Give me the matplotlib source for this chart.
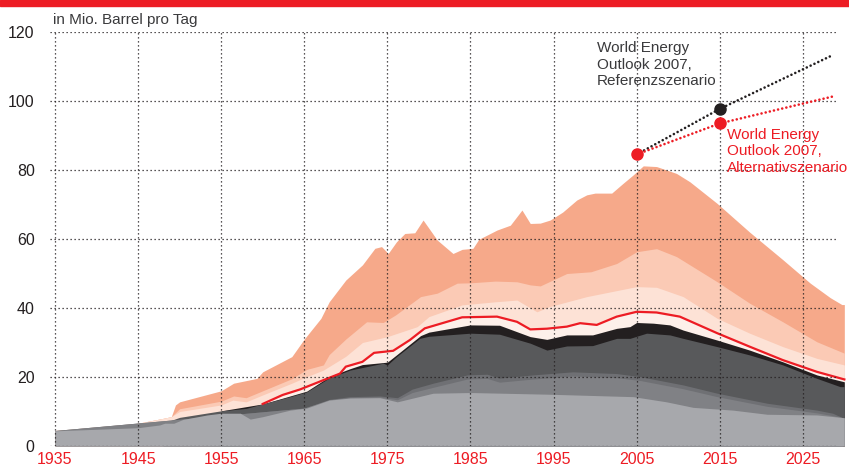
import matplotlib
matplotlib.use('Agg')
import matplotlib.pyplot as plt
from matplotlib.patches import Rectangle

plt.rcParams['font.family'] = ['Liberation Sans', 'DejaVu Sans']

# boundaries of the stacked areas (cumulative heights, Mio. barrel per day)
total_years = [1935, 1940, 1945, 1948, 1949, 1949.5, 1950, 1955, 1956.5, 1959.3, 1960, 1963.5, 1965,
               1967, 1968, 1970, 1972, 1973.5, 1974.3, 1975.1, 1976.1, 1977.1, 1978.3, 1979.3, 1981,
               1982.9, 1984, 1985.3, 1986, 1988.2, 1989.8, 1991.2, 1992.2, 1993.4, 1994.6, 1996.1,
               1997.8, 1999, 2000, 2002, 2003.4, 2004.6, 2005.8, 2007.4, 2009.8, 2011.4, 2014.7,
               2018.6, 2022.6, 2025.9, 2028.3, 2029.7, 2030]
total_vals = [4.5, 5.0, 6.6, 8.0, 8.5, 11.9, 12.8, 16.0, 18.2, 19.6, 21.5, 25.9, 31.0,
              37.0, 41.8, 48.1, 52.5, 57.3, 57.8, 55.8, 59.2, 61.6, 61.8, 65.5, 59.7,
              55.8, 57.0, 57.3, 59.9, 62.6, 64.0, 68.4, 64.5, 64.6, 65.5, 67.8,
              71.3, 72.8, 73.3, 73.3, 76.2, 78.6, 81.2, 81.0, 79.0, 76.6, 70.3,
              62.0, 54.0, 47.2, 43.0, 41.0, 41.0]

pink_years = [1935, 1945, 1948, 1949, 1950, 1955, 1956.5, 1958, 1960, 1963.5, 1965.3, 1967.3, 1968,
              1970, 1972.5, 1974.5, 1976, 1979, 1981, 1983.4, 1985, 1988, 1990.6, 1992.2, 1993.4,
              1996.6, 1999.5, 2002.6, 2005, 2007.4, 2009.8, 2014.7, 2018.6, 2022.6, 2026.7, 2030]
pink_vals = [4.5, 6.6, 8.0, 8.5, 10.8, 13.0, 14.5, 14.0, 16.0, 19.5, 22.2, 23.5, 26.5,
             31.0, 36.0, 35.8, 38.0, 43.3, 44.3, 47.2, 47.3, 47.8, 47.6, 46.7, 46.4,
             50.0, 50.5, 52.9, 56.3, 57.2, 54.9, 47.6, 41.4, 36.0, 30.2, 26.9]

lightpink_years = [1935, 1940, 1945, 1948, 1949, 1950, 1955, 1956.4, 1958, 1960, 1963.5, 1965.3,
                   1967.3, 1970, 1972, 1975, 1978.6, 1980, 1984, 1988, 1990.6, 1993, 1994.5, 1999,
                   2005, 2007.4, 2010.6, 2014.7, 2018.6, 2022.6, 2026.7, 2030]
lightpink_vals = [4.5, 5.0, 6.6, 8.0, 8.5, 10.0, 11.9, 13.3, 12.8, 14.8, 18.2, 20.1,
                  22.0, 26.0, 30.0, 31.7, 34.6, 37.5, 40.9, 41.8, 42.3, 38.9, 40.4, 43.3,
                  46.2, 46.0, 43.3, 37.0, 32.7, 28.8, 25.4, 23.5]

# top of the cream layer = red line
cream_years = [1960, 1962.4, 1964.5, 1969.3, 1970, 1972, 1973.4, 1975.7, 1977.7, 1979.5, 1984,
               1988.2, 1990.6, 1992.2, 1994.2, 1996.6, 1998.2, 2000.2, 2002.6, 2005, 2007.4,
               2010.2, 2014.7, 2018.6, 2022.6, 2026.7, 2030]
cream_vals = [12.2, 14.8, 16.4, 21.0, 23.0, 24.4, 27.0, 27.6, 30.7, 34.1, 37.3,
              37.5, 36.0, 33.8, 34.0, 34.6, 35.6, 35.1, 37.5, 38.9, 38.7,
              37.5, 32.7, 28.8, 24.9, 21.5, 19.3]

black_years = [1955, 1960, 1965.3, 1968, 1970.5, 1972, 1975, 1976.1, 1979, 1980, 1985, 1988.5,
               1992.2, 1994.2, 1996.6, 1999.7, 2002.6, 2004.2, 2005, 2007, 2009, 2010.6, 2014.7,
               2018.6, 2022.6, 2026.7, 2030]
black_vals = [10.2, 12.2, 15.9, 20.1, 22.4, 23.6, 24.3, 26.4, 32.0, 33.0, 35.1, 35.0,
              31.7, 30.9, 32.2, 32.2, 34.1, 34.6, 35.8, 35.6, 35.1, 33.6, 30.7,
              27.8, 24.4, 20.6, 18.6]

dark_years = [1948, 1950, 1955, 1958, 1960, 1963.3, 1965.3, 1968, 1970.5, 1974.5, 1975, 1976.1,
              1978.9, 1980, 1985, 1988.5, 1992.2, 1994.2, 1996.6, 1999.7, 2002.6, 2004.2, 2006.2,
              2009, 2010.6, 2014.7, 2018.6, 2022.6, 2026.7, 2029.5, 2030]
dark_vals = [6.6, 8.3, 10.2, 10.9, 12.2, 14.3, 15.7, 19.7, 22.0, 24.0, 23.5, 25.9,
             31.2, 31.8, 32.7, 32.4, 29.8, 27.8, 29.0, 29.1, 31.2, 31.2, 32.7,
             32.2, 31.2, 28.8, 26.4, 23.5, 19.6, 17.2, 17.2]

gray3_years = [1935, 1965, 1968, 1970.5, 1974.1, 1976.2, 1978, 1980.5, 1984.6, 1987, 1988.5,
               1992.5, 1997.3, 2002.6, 2005.4, 2010.6, 2014.7, 2020.7, 2026.7, 2028.6, 2029.8]
gray3_vals = [4.5, 11.0, 13.5, 14.3, 14.5, 14.0, 16.5, 18.2, 20.6, 20.8, 19.7,
              20.6, 21.5, 21.0, 20.1, 17.7, 15.3, 12.4, 10.4, 9.5, 8.2]

gray2_years = [1935, 1965, 1968, 1970.5, 1974.1, 1976.2, 1978, 1980.5, 1984.6, 1987, 1988.5,
               1992.5, 1997.3, 2002.6, 2005.4, 2010.6, 2014.7, 2020.7, 2026.7, 2028.6, 2029.8]
gray2_vals = [4.5, 11.0, 13.4, 14.0, 14.2, 13.4, 15.5, 17.0, 19.4, 19.6, 18.5,
              19.4, 20.3, 19.8, 19.0, 16.6, 14.3, 11.5, 9.6, 8.8, 8.2]

gray1_years = [1935, 1945, 1947.6, 1948.2, 1949.3, 1950.4, 1953.3, 1955, 1957.3, 1958.5, 1960,
               1963.3, 1965.3, 1968, 1970.5, 1974.1, 1976.2, 1980.5, 1985, 1994.6, 2004.6,
               2008.6, 2011.8, 2016.6, 2020.7, 2026.7, 2030]
gray1_vals = [4.4, 5.3, 6.1, 6.6, 6.6, 7.7, 9.0, 9.5, 9.5, 7.8, 8.5,
              10.4, 11.0, 13.3, 13.9, 14.0, 12.8, 15.3, 15.5, 15.0, 14.3,
              12.8, 11.2, 10.4, 9.2, 9.0, 8.2]

# World Energy Outlook 2007 scenarios
weo_years = [2005, 2015, 2028.6]
weo_ref = [84.5, 97.7, 113.3]
weo_alt = [84.5, 93.5, 101.3]

xticks = [1935, 1945, 1955, 1965, 1975, 1985, 1995, 2005, 2015, 2025]
yticks = [0, 20, 40, 60, 80, 100, 120]

RED = '#ed1c24'
BLACK = '#231f20'

fig = plt.figure(figsize=(8.49, 4.67), dpi=100)
fig.patches.append(Rectangle((0, 1 - 6 / 467), 1, 6 / 467, transform=fig.transFigure,
                             color=RED, zorder=0))

ax = fig.add_axes([50 / 849, 1 - 446 / 467, 796 / 849, 414 / 467])
ax.set_xlim(1934.4, 2030.2)
ax.set_ylim(0, 120)
for s in ax.spines.values():
    s.set_visible(False)

layers = [
    (total_years, total_vals, '#f6a98a'),
    (pink_years, pink_vals, '#fbcab5'),
    (lightpink_years, lightpink_vals, '#fde2d6'),
    (cream_years, cream_vals, '#fdf0ea'),
    (black_years, black_vals, BLACK),
    (dark_years, dark_vals, '#58595b'),
    (gray3_years, gray3_vals, '#6f7074'),
    (gray2_years, gray2_vals, '#808185'),
    (gray1_years, gray1_vals, '#a7a8ac'),
]
for xs, ys, c in layers:
    ax.fill_between(xs, 0, ys, color=c, lw=0, zorder=1)

ax.plot(cream_years, cream_vals, color=RED, lw=1.6, zorder=2)

# dotted grid on top of the areas
dots = (0, (1, 2.2))
ax.hlines(yticks, 1934.4, 2029.1, colors=BLACK, lw=0.9, linestyles=[dots], zorder=3)
ax.vlines(xticks, 0, 120, colors=BLACK, lw=0.9, linestyles=[dots], zorder=3)

ax.plot(weo_years, weo_ref, color=BLACK, lw=1.9, linestyle=(0, (0.01, 1.6)),
        dash_capstyle='round', zorder=4)
ax.plot(weo_years, weo_alt, color=RED, lw=1.9, linestyle=(0, (0.01, 1.6)),
        dash_capstyle='round', zorder=4)
ax.plot(weo_years[1], weo_ref[1], 'o', color=BLACK, ms=8, zorder=5)
ax.plot(weo_years[1], weo_alt[1], 'o', color=RED, ms=8, zorder=5)
ax.plot(weo_years[0], weo_alt[0], 'o', color=RED, ms=8, zorder=5)

ax.text(2000.2, 117.3, 'World Energy\nOutlook 2007,\nReferenzszenario', color='#3a3a3c',
        fontsize=11, va='top', ha='left', linespacing=1.22, zorder=6)
ax.text(2015.9, 92.2, 'World Energy\nOutlook 2007,\nAlternativszenario', color=RED,
        fontsize=11, va='top', ha='left', linespacing=1.22, zorder=6, clip_on=False)

ax.set_xticks(xticks)
ax.set_xticklabels([str(x) for x in xticks], color=RED, fontsize=11.5)
ax.set_yticks(yticks)
ax.set_yticklabels([str(y) for y in yticks], color=BLACK, fontsize=11.5)
ax.tick_params(axis='both', length=0)
ax.tick_params(axis='x', pad=4)
ax.tick_params(axis='y', pad=11)

fig.text(53 / 849, 1 - 24 / 467, 'in Mio. Barrel pro Tag', color='#3a3a3c', fontsize=11,
         ha='left', va='baseline')

fig.savefig('out.png', dpi=100)
